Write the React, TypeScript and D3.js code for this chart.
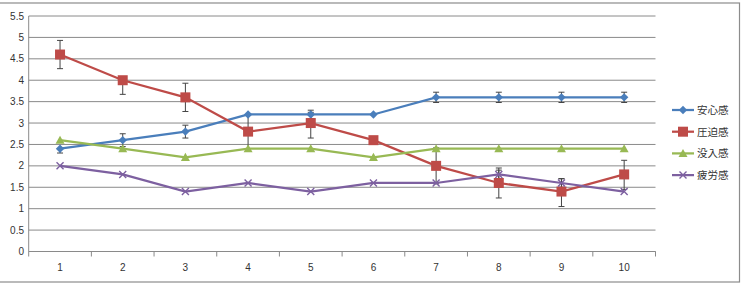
import React from "react";
import * as d3 from "d3";

const categories = ["1", "2", "3", "4", "5", "6", "7", "8", "9", "10"];
const seriesNames = ["安心感", "圧迫感", "没入感", "疲労感"];
const anshin = [2.4, 2.6, 2.8, 3.2, 3.2, 3.2, 3.6, 3.6, 3.6, 3.6];
const appaku = [4.6, 4.0, 3.6, 2.8, 3.0, 2.6, 2.0, 1.6, 1.4, 1.8];
const botsunyu = [2.6, 2.4, 2.2, 2.4, 2.4, 2.2, 2.4, 2.4, 2.4, 2.4];
const hiro = [2.0, 1.8, 1.4, 1.6, 1.4, 1.6, 1.6, 1.8, 1.6, 1.4];
const anshinErrUp = [0, 0.15, 0.15, 0, 0.1, 0, 0.12, 0.12, 0.12, 0.12];
const anshinErrDown = [0.1, 0.15, 0.15, 0, 0.1, 0, 0.12, 0.12, 0.12, 0.12];
const appakuErrUp = [0.33, 0, 0.33, 0.4, 0.25, 0, 0.42, 0.3, 0.3, 0.33];
const appakuErrDown = [0.33, 0.33, 0.33, 0.4, 0.35, 0, 0.42, 0.35, 0.35, 0.35];
const botsunyuErr = [0, 0, 0, 0, 0, 0, 0, 0, 0, 0];
const hiroErr = [0, 0, 0, 0, 0, 0, 0, 0.15, 0.1, 0];
const yTicks = [0, 0.5, 1, 1.5, 2, 2.5, 3, 3.5, 4, 4.5, 5, 5.5];

const colors = ["#4a7ebb", "#be4b48", "#98b954", "#7d60a0"];
const markers = ["diamond", "square", "triangle", "x"];

function Marker({ type, x, y, color }: { type: string; x: number; y: number; color: string }) {
  if (type === "diamond") {
    const s = 4.2;
    return <path d={`M${x},${y - s}L${x + s},${y}L${x},${y + s}L${x - s},${y}Z`} fill={color} />;
  }
  if (type === "square") {
    const s = 5;
    return <rect x={x - s} y={y - s} width={2 * s} height={2 * s} fill={color} />;
  }
  if (type === "triangle") {
    const s = 4.5;
    return <path d={`M${x},${y - s}L${x + s},${y + s * 0.8}L${x - s},${y + s * 0.8}Z`} fill={color} />;
  }
  const s = 3.5;
  return (
    <path
      d={`M${x - s},${y - s}L${x + s},${y + s}M${x - s},${y + s}L${x + s},${y - s}`}
      stroke={color}
      strokeWidth={1.4}
      fill="none"
    />
  );
}

export default function App() {
  const W = 744;
  const H = 290;
  const left = 28.7;
  const right = 655.5;
  const top = 16;
  const bottom = 251.5;
  const x = d3.scaleBand().domain(categories).range([left, right]);
  const cx = (c: string) => (x(c) as number) + x.bandwidth() / 2;
  const y = d3.scaleLinear().domain([0, 5.5]).range([bottom, top]);
  const data = [anshin, appaku, botsunyu, hiro];
  const errsUp = [anshinErrUp, appakuErrUp, botsunyuErr, hiroErr];
  const errsDown = [anshinErrDown, appakuErrDown, botsunyuErr, hiroErr];
  const line = d3
    .line<number>()
    .x((_, i) => cx(categories[i]))
    .y((d) => y(d));
  const font = "'Liberation Sans', Arial, sans-serif";

  return (
    <svg
      width={W}
      height={H}
      style={{ position: "absolute", left: 0, top: 0, background: "#fff" }}
      fontFamily={font}
    >
      <rect x={-2} y={3} width={741.5} height={279} fill="#fff" stroke="#8c8c8c" strokeWidth={1.2} />
      {yTicks.map((t) => (
        <line key={t} x1={left} x2={right} y1={y(t)} y2={y(t)} stroke="#8a8a8a" strokeWidth={1} />
      ))}
      <line x1={left} x2={left} y1={top} y2={bottom} stroke="#8a8a8a" />
      <line x1={left} x2={right} y1={bottom} y2={bottom} stroke="#8a8a8a" />
      {categories.map((c) => (
        <line
          key={"t" + c}
          x1={x(c) as number}
          x2={x(c) as number}
          y1={bottom}
          y2={bottom + 5}
          stroke="#8a8a8a"
        />
      ))}
      <line x1={right} x2={right} y1={bottom} y2={bottom + 5} stroke="#8a8a8a" />
      {yTicks.map((t) => (
        <text key={"l" + t} x={24} y={y(t) + 3.5} textAnchor="end" fontSize={10} fill="#333">
          {String(t)}
        </text>
      ))}
      {categories.map((c) => (
        <text key={"c" + c} x={cx(c)} y={271} textAnchor="middle" fontSize={10} fill="#333">
          {c}
        </text>
      ))}
      {data.map((s, si) =>
        s.map((v, i) => {
          const eu = errsUp[si][i];
          const ed = errsDown[si][i];
          if (!eu && !ed) return null;
          const px = cx(categories[i]);
          return (
            <g key={`e${si}-${i}`} stroke="#444" strokeWidth={1}>
              <line x1={px} x2={px} y1={y(v + eu)} y2={y(v - ed)} />
              {eu ? <line x1={px - 3} x2={px + 3} y1={y(v + eu)} y2={y(v + eu)} /> : null}
              {ed ? <line x1={px - 3} x2={px + 3} y1={y(v - ed)} y2={y(v - ed)} /> : null}
            </g>
          );
        })
      )}
      {data.map((s, si) => (
        <g key={"s" + si}>
          <path d={line(s) || ""} fill="none" stroke={colors[si]} strokeWidth={2.25} />
          {s.map((v, i) => (
            <Marker key={i} type={markers[si]} x={cx(categories[i])} y={y(v)} color={colors[si]} />
          ))}
        </g>
      ))}
      {seriesNames.map((n, i) => {
        const ly = 110 + i * 21.7;
        return (
          <g key={"lg" + n}>
            <line x1={672} x2={694} y1={ly} y2={ly} stroke={colors[i]} strokeWidth={2.25} />
            <Marker type={markers[i]} x={683} y={ly} color={colors[i]} />
            <text
              x={697}
              y={ly + 4}
              fontSize={10.5}
              fill="#333"
              fontFamily="'Noto Sans CJK JP', sans-serif"
            >
              {n}
            </text>
          </g>
        );
      })}
    </svg>
  );
}
